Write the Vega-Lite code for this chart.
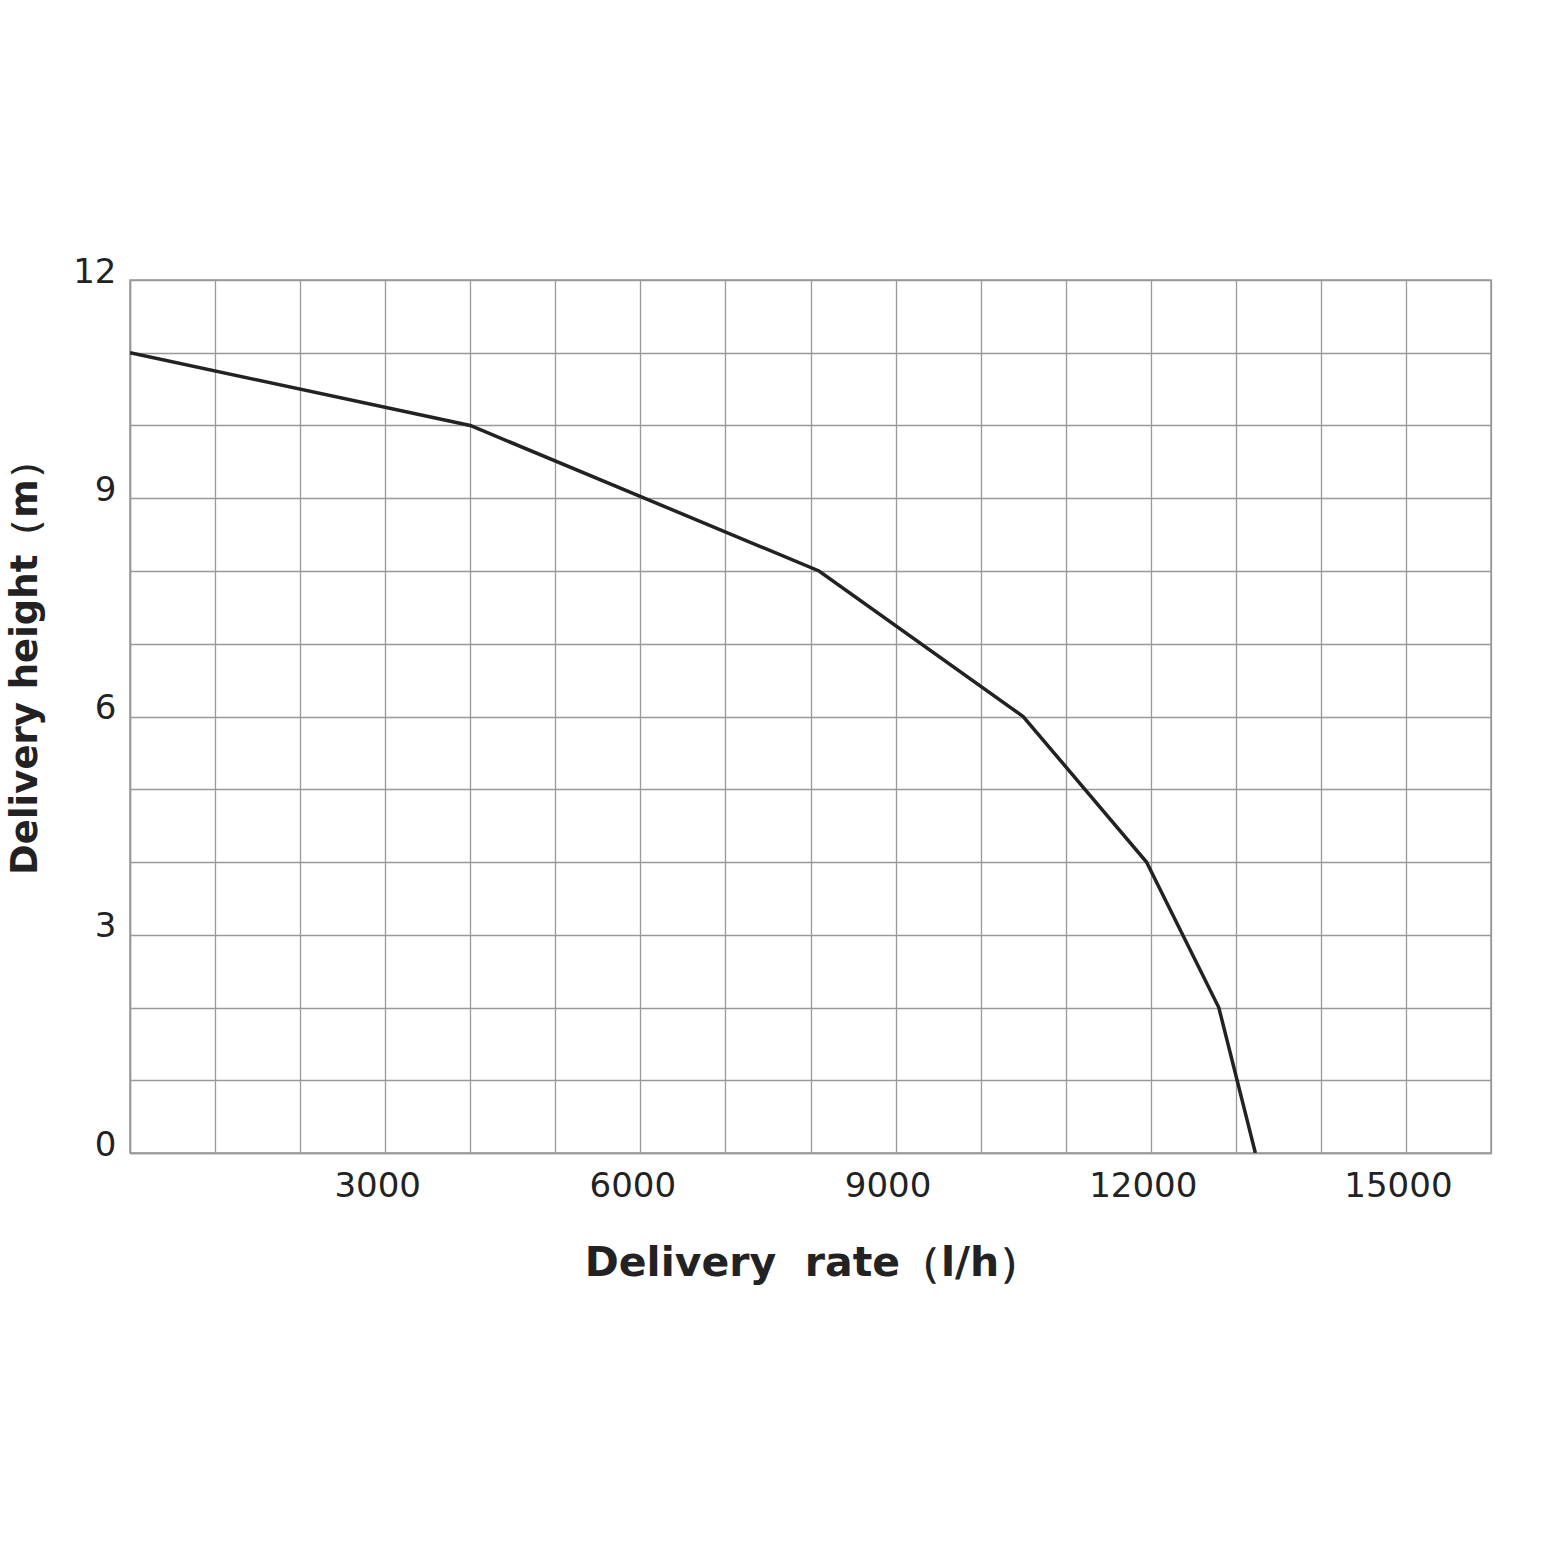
{
  "$schema": "https://vega.github.io/schema/vega-lite/v6.json",
  "width": 1361,
  "height": 873,
  "autosize": {"type": "none"},
  "padding": {"left": 130, "top": 280, "right": 69, "bottom": 407},
  "background": "white",
  "config": {
    "view": {"stroke": "#999999", "strokeWidth": 1.5},
    "axis": {
      "gridColor": "#999999",
      "gridWidth": 1.3,
      "gridOpacity": 1,
      "domainColor": "#999999",
      "domainWidth": 1.5,
      "ticks": false,
      "labelFont": "DejaVu Sans",
      "labelFontSize": 34,
      "labelColor": "#222222",
      "titleFont": "DejaVu Sans",
      "titleFontWeight": "bold",
      "titleFontSize": 40,
      "titleColor": "#222222"
    }
  },
  "data": {
    "values": [
      {"rate": 0, "height": 11},
      {"rate": 4000, "height": 10},
      {"rate": 8100, "height": 8},
      {"rate": 10500, "height": 6},
      {"rate": 11950, "height": 4},
      {"rate": 12800, "height": 2},
      {"rate": 13230, "height": 0}
    ]
  },
  "mark": {"type": "line", "color": "#222222", "strokeWidth": 3.5, "clip": true},
  "encoding": {
    "x": {
      "field": "rate",
      "type": "quantitative",
      "scale": {"domain": [0, 16000], "nice": false, "zero": true},
      "axis": {
        "title": "Delivery\u00a0\u00a0rate（l/h）",
        "titleFontSize": 41,
        "values": [0,1000,2000,3000,4000,5000,6000,7000,8000,9000,10000,11000,12000,13000,14000,15000,16000],
        "format": "d",
        "labelExpr": "datum.value % 3000 === 0 && datum.value > 0 ? datum.label : ''",
        "labelPadding": 16,
        "labelOffset": -8,
        "titleBaseline": "middle",
        "titleY": 110,
        "titleX": 682
      }
    },
    "y": {
      "field": "height",
      "type": "quantitative",
      "scale": {"domain": [0, 12], "nice": false},
      "axis": {
        "title": "Delivery\u00a0height（m）",
        "titleFontSize": 37,
        "values": [0,1,2,3,4,5,6,7,8,9,10,11,12],
        "labelExpr": "datum.value % 3 === 0 ? datum.label : ''",
        "labelPadding": 14,
        "labelOffset": -8,
        "titleBaseline": "middle",
        "titleX": -105,
        "titleY": 378
      }
    }
  }
}
